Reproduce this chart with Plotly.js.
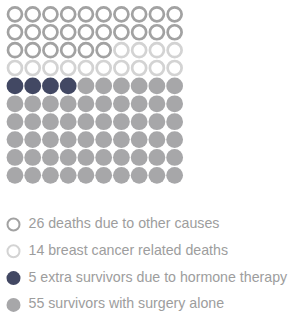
<!DOCTYPE html>
<html><head><meta charset="utf-8">
<script src="https://cdn.plot.ly/plotly-3.0.1.min.js"></script>
<style>html,body{margin:0;padding:0;background:#fff}#chart{width:291px;height:316px}</style>
</head><body><div id="chart"></div>
<script>
// Data (counts of 100 patients, as drawn in the grid)
const categories = ["deaths due to other causes", "breast cancer related deaths", "extra survivors due to hormone therapy", "survivors with surgery alone"];
const gridCounts = [26, 14, 4, 56];
const legendLabels = ["26 deaths due to other causes", "14 breast cancer related deaths", "5 extra survivors due to hormone therapy", "55 survivors with surgery alone"];
const colors = ["#a2a2a2", "#d3d3d3", "#424863", "#a7a7a9"];
const openSymbol = [true, true, false, false];
const gridCols = 10;

const W = 291, H = 316;
const traces = [];
let k = 0;
gridCounts.forEach((n, c) => {
  const xs = [], ys = [];
  for (let j = 0; j < n; j++, k++) { xs.push(k % gridCols); ys.push(Math.floor(k / gridCols)); }
  traces.push({
    type: "scatter", mode: "markers", x: xs, y: ys, xaxis: "x", yaxis: "y",
    hoverinfo: "skip", showlegend: false,
    marker: openSymbol[c]
      ? {symbol: "circle-open", size: 14, color: colors[c], line: {width: 2.7, color: colors[c]}}
      : {symbol: "circle", size: 16.8, color: colors[c], line: {width: 0}}
  });
});
// Legend drawn as a second pair of axes
legendLabels.forEach((t, i) => {
  traces.push({
    type: "scatter", mode: "markers", x: [0], y: [i], xaxis: "x2", yaxis: "y2",
    hoverinfo: "skip", showlegend: false,
    marker: openSymbol[i]
      ? {symbol: "circle-open", size: 12, color: colors[i], line: {width: 2, color: colors[i]}}
      : {symbol: "circle", size: 14, color: colors[i], line: {width: 0}}
  });
});
traces.push({
  type: "scatter", mode: "text", x: legendLabels.map(() => 15), y: legendLabels.map((_, i) => i),
  text: legendLabels, textposition: "middle right", xaxis: "x2", yaxis: "y2",
  hoverinfo: "skip", showlegend: false,
  textfont: {family: "Liberation Sans, Arial, sans-serif", size: 14.2, color: "#9d9d9d"}
});

const pxX = v => v / W, pxY = v => 1 - v / H;
const legTop = 224.5, legStep = 26.8;
const layout = {
  width: W, height: H, margin: {l: 0, r: 0, t: 0, b: 0},
  paper_bgcolor: "#fff", plot_bgcolor: "#fff", showlegend: false,
  xaxis: {domain: [pxX(6.1), pxX(183.5)], range: [-0.5, 9.5], visible: false, fixedrange: true},
  yaxis: {domain: [pxY(184.3), pxY(5.4)], range: [9.5, -0.5], visible: false, fixedrange: true},
  xaxis2: {domain: [0, 1], range: [-13.5, 277.5], visible: false, fixedrange: true, anchor: "y2"},
  yaxis2: {domain: [0, pxY(200)], range: [(316 - legTop) / legStep, (200 - legTop) / legStep], visible: false, fixedrange: true, anchor: "x2"}
};
Plotly.newPlot("chart", traces, layout, {displayModeBar: false, staticPlot: true});
</script></body></html>
